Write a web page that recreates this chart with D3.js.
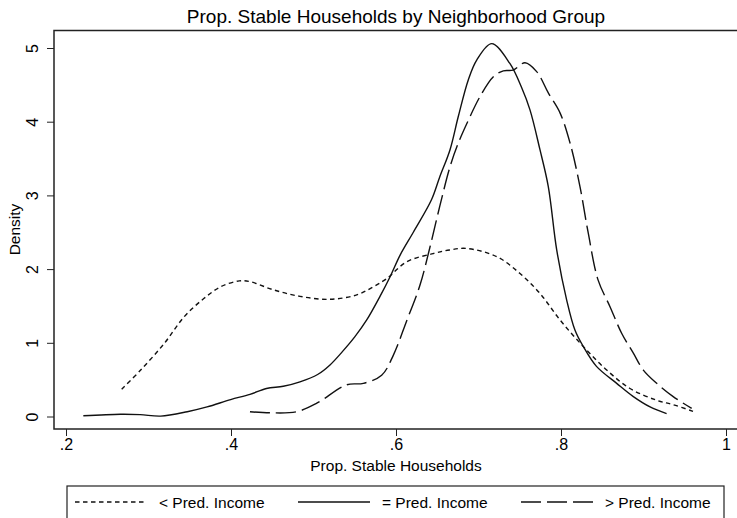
<html>
  <head>
    <style>
      body {
        margin: 0;
        background: white;
        font-family: "Liberation Sans", Arial, Helvetica, sans-serif;
      }
      svg text {
        fill: #000;
      }
    </style>
    <script src="https://cdn.jsdelivr.net/npm/d3@7"></script>
  </head>
  <body>
    <svg id="chart"></svg>
  </body>
  <script>
    // density curves: [prop. stable households, density]
    let lessIncome = [
      [0.2675, 0.37], [0.2905, 0.63], [0.319, 0.99], [0.343, 1.35], [0.367, 1.6],
      [0.3875, 1.76], [0.41, 1.84], [0.423, 1.83], [0.451, 1.72], [0.4836, 1.63],
      [0.52, 1.59], [0.5524, 1.65], [0.5725, 1.76], [0.5887, 1.87], [0.613, 2.1],
      [0.645, 2.21], [0.665, 2.26], [0.6857, 2.28], [0.722, 2.17], [0.7503, 1.94],
      [0.7745, 1.67], [0.7988, 1.31], [0.827, 0.95], [0.8554, 0.63], [0.8836, 0.38],
      [0.916, 0.22], [0.936, 0.16], [0.96, 0.07],
    ];
    let equalIncome = [
      [0.221, 0.01], [0.266, 0.03], [0.29, 0.025], [0.3148, 0.005], [0.347, 0.065],
      [0.371, 0.13], [0.3996, 0.23], [0.423, 0.3], [0.443, 0.38], [0.4634, 0.41],
      [0.4836, 0.47], [0.505, 0.57], [0.52, 0.7], [0.535, 0.88], [0.55, 1.08],
      [0.5645, 1.31], [0.5806, 1.63], [0.593, 1.9], [0.605, 2.19], [0.621, 2.5],
      [0.643, 2.94], [0.653, 3.25], [0.6655, 3.62], [0.6755, 4.07], [0.6877, 4.57],
      [0.698, 4.84], [0.716, 5.06], [0.738, 4.79], [0.752, 4.47], [0.7624, 4.16],
      [0.7745, 3.62], [0.7846, 3.12], [0.7948, 2.26], [0.8069, 1.58], [0.817, 1.17],
      [0.827, 0.95], [0.843, 0.68], [0.8675, 0.45], [0.8877, 0.27], [0.908, 0.13],
      [0.928, 0.04],
    ];
    let greaterIncome = [
      [0.423, 0.065], [0.447, 0.05], [0.4796, 0.065], [0.504, 0.18], [0.54, 0.43],
      [0.5604, 0.45], [0.5826, 0.56], [0.5967, 0.83], [0.613, 1.3], [0.629, 1.78],
      [0.6412, 2.3], [0.653, 2.85], [0.6655, 3.39], [0.6755, 3.71], [0.6877, 4.02],
      [0.7018, 4.34], [0.718, 4.61], [0.7301, 4.69], [0.742, 4.7], [0.7564, 4.8],
      [0.7705, 4.68], [0.7846, 4.39], [0.7988, 4.12], [0.811, 3.71], [0.823, 3.12],
      [0.833, 2.49], [0.845, 1.85], [0.8594, 1.49], [0.8735, 1.13], [0.8877, 0.86],
      [0.8998, 0.63], [0.916, 0.45], [0.936, 0.27], [0.9584, 0.11],
    ];
    let seriesNames = ["< Pred. Income", "= Pred. Income", "> Pred. Income"];
    let xTicks = [0.2, 0.4, 0.6, 0.8, 1];
    let yTicks = [0, 1, 2, 3, 4, 5];

    let width = 737;
    let height = 518;
    let dashes = ["4.5,3.5", null, "20,6"];

    let svg = d3.select("#chart").attr("width", width).attr("height", height);

    let xScale = d3.scaleLinear().domain([0.2, 1]).range([66, 726]);
    let yScale = d3.scaleLinear().domain([0, 5]).range([416.5, 48]);

    // plot region frame (runs off the right edge like the original)
    svg
      .append("rect")
      .attr("x", 54)
      .attr("y", 30.5)
      .attr("width", 700)
      .attr("height", 398.5)
      .attr("fill", "none")
      .attr("stroke", "#222")
      .attr("stroke-width", 1.5);

    // title
    svg
      .append("text")
      .attr("x", 396)
      .attr("y", 23)
      .attr("text-anchor", "middle")
      .attr("font-size", 19)
      .text("Prop. Stable Households by Neighborhood Group");

    // x axis
    let axisX = d3
      .axisBottom(xScale)
      .tickValues(xTicks)
      .tickSize(7)
      .tickPadding(3)
      .tickFormat((d) => (d === 1 ? "1" : String(d).replace("0.", ".")));
    let gx = svg.append("g").attr("transform", "translate(0,429)").call(axisX);
    gx.select(".domain").remove();
    gx.selectAll("line").attr("stroke", "#222");
    gx.selectAll("text")
      .attr("font-size", 16)
      .attr("font-family", "Liberation Sans, Arial, sans-serif")
      .attr("fill", "#000");

    svg
      .append("text")
      .attr("x", 396)
      .attr("y", 471)
      .attr("text-anchor", "middle")
      .attr("font-size", 15.5)
      .text("Prop. Stable Households");

    // y axis, labels rotated as in Stata
    let axisY = d3.axisLeft(yScale).tickValues(yTicks).tickSize(7).tickFormat(d3.format("d"));
    let gy = svg.append("g").attr("transform", "translate(54,0)").call(axisY);
    gy.select(".domain").remove();
    gy.selectAll("line").attr("stroke", "#222");
    gy.selectAll("text")
      .attr("font-size", 16)
      .attr("font-family", "Liberation Sans, Arial, sans-serif")
      .attr("fill", "#000")
      .attr("x", null)
      .attr("dy", null)
      .attr("text-anchor", "middle")
      .attr("transform", "translate(-16,0) rotate(-90)");

    svg
      .append("text")
      .attr("transform", "translate(20,229.5) rotate(-90)")
      .attr("text-anchor", "middle")
      .attr("font-size", 15.5)
      .text("Density");

    // curves
    let line = d3
      .line()
      .x((d) => xScale(d[0]))
      .y((d) => yScale(d[1]))
      .curve(d3.curveCatmullRom);

    [lessIncome, equalIncome, greaterIncome].forEach((data, i) => {
      svg
        .append("path")
        .attr("d", line(data))
        .attr("fill", "none")
        .attr("stroke", "#111")
        .attr("stroke-width", 1.4)
        .attr("stroke-dasharray", dashes[i]);
    });

    // legend
    let legend = svg.append("g");
    legend
      .append("rect")
      .attr("x", 67)
      .attr("y", 486)
      .attr("width", 657)
      .attr("height", 50)
      .attr("fill", "none")
      .attr("stroke", "#222")
      .attr("stroke-width", 1.2);

    seriesNames.forEach((name, i) => {
      let x0 = 75 + i * 223;
      legend
        .append("line")
        .attr("x1", x0)
        .attr("x2", x0 + 72)
        .attr("y1", 502)
        .attr("y2", 502)
        .attr("stroke", "#111")
        .attr("stroke-width", 1.4)
        .attr("stroke-dasharray", dashes[i]);
      legend
        .append("text")
        .attr("x", x0 + 84)
        .attr("y", 507.5)
        .attr("font-size", 15.5)
        .text(name);
    });
  </script>
</html>
